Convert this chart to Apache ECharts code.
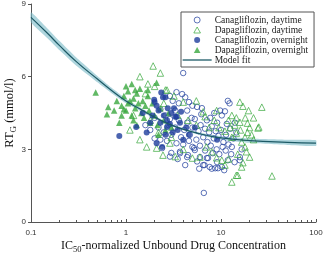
<!DOCTYPE html>
<html>
<head>
<meta charset="utf-8">
<script src="https://cdn.jsdelivr.net/npm/echarts@6/dist/echarts.min.js"></script>
<style>
  html, body { margin: 0; padding: 0; background: #fff; }
  #chart { width: 324px; height: 258px; }
</style>
</head>
<body>
<div id="chart"></div>
<script>
  // model fit (x, y) with confidence band
  var fitX = [0.1, 0.15, 0.2, 0.3, 0.5, 0.7, 1, 1.5, 2, 3, 5, 7, 10, 20, 50, 100]
  var fitY = [8.45, 7.78, 7.28, 6.62, 5.9, 5.44, 5.0, 4.6, 4.33, 4.0, 3.72, 3.58, 3.47, 3.36, 3.29, 3.26]
  var fitLow = [8.24, 7.58, 7.09, 6.45, 5.77, 5.33, 4.91, 4.53, 4.27, 3.95, 3.67, 3.52, 3.40, 3.27, 3.18, 3.14]
  var fitHigh = [8.66, 7.98, 7.47, 6.79, 6.03, 5.55, 5.09, 4.67, 4.39, 4.05, 3.77, 3.64, 3.54, 3.45, 3.40, 3.38]

  var xTicks = ['0.1', '1', '10', '100']
  var yTicks = ['0', '3', '6', '9']

  // Canagliflozin, daytime
  var canaDay = [
    [4.0, 6.15], [3.4, 5.36], [3.9, 5.28], [4.2, 5.15], [3.1, 5.0], [2.9, 5.2], [3.6, 4.9], [4.6, 4.95], [5.0, 4.8], [5.6, 4.75],
    [11.8, 5.0], [12.3, 4.9], [9.8, 4.6], [11.0, 4.57], [10.2, 4.4], [7.1, 4.2], [7.7, 4.3], [9.1, 4.1], [11.5, 4.05], [6.2, 4.45],
    [4.4, 4.6], [3.3, 4.6], [2.6, 4.4], [2.3, 4.65], [2.0, 4.3], [2.2, 3.9], [2.5, 3.7], [2.8, 4.0], [3.0, 3.6], [3.3, 3.9],
    [3.6, 4.2], [3.8, 3.5], [4.1, 3.8], [4.4, 4.1], [4.7, 3.6], [5.0, 3.9], [5.3, 4.25], [5.5, 3.4], [5.8, 3.75], [6.1, 4.0],
    [6.5, 3.5], [6.8, 3.85], [7.2, 3.3], [7.5, 3.7], [8.0, 3.95], [8.4, 3.45], [8.8, 3.75], [9.4, 3.55], [10.0, 3.8], [10.6, 3.3],
    [11.3, 3.6], [12.5, 3.85], [13.5, 3.45], [14.5, 3.7], [4.0, 3.2], [4.6, 3.35], [5.2, 3.05], [3.4, 3.25], [2.7, 3.35], [2.4, 3.05],
    [6.0, 3.15], [6.8, 2.95], [7.8, 3.15], [9.0, 3.0], [10.4, 3.1], [12.0, 3.2], [4.2, 2.35], [4.4, 2.68], [4.5, 2.76], [5.0, 3.1],
    [5.3, 2.97], [6.0, 2.68], [6.5, 2.35], [6.7, 2.35], [7.1, 2.64], [7.3, 2.64], [7.6, 2.27], [8.0, 2.2], [8.2, 2.84], [8.7, 2.22],
    [9.1, 2.47], [9.3, 2.22], [10.2, 2.27], [10.8, 2.14], [11.8, 2.55], [13.9, 2.47], [15.8, 2.55], [15.8, 2.68], [3.5, 2.6], [3.0, 2.85],
    [5.6, 2.5], [12.8, 2.8], [6.6, 1.2], [2.0, 3.45], [1.8, 3.8], [1.6, 4.0], [2.9, 4.25], [13.0, 3.1], [16.5, 3.0], [3.7, 2.9],
    [2.3, 3.4], [2.9, 2.7], [3.7, 2.84], [4.9, 4.3], [8.5, 4.5], [6.3, 4.7], [9.6, 2.8], [11.2, 2.95], [14.0, 4.1], [5.9, 2.2]
  ]

  // Dapagliflozin, daytime
  var dapaDay = [
    [1.93, 6.44], [2.3, 6.15], [1.4, 6.0], [2.7, 5.45], [2.6, 5.45], [1.7, 5.7], [4.0, 4.95], [15.8, 4.95], [17.0, 4.78], [26.9, 4.74],
    [13.0, 4.4], [14.5, 4.3], [15.8, 4.12], [19.0, 4.08], [24.5, 3.88], [25.0, 3.92], [6.5, 4.55], [6.8, 4.35], [16.5, 3.3], [17.9, 3.1],
    [20.0, 2.68], [16.5, 2.27], [14.5, 1.93], [13.0, 1.65], [15.0, 1.93], [34.4, 1.9], [10.2, 2.55], [5.0, 2.64], [6.0, 2.68], [2.9, 3.26],
    [3.0, 3.5], [13.0, 3.5], [14.5, 3.67], [17.9, 3.5], [19.0, 3.7], [1.4, 3.4], [1.65, 3.1], [2.1, 3.05], [2.45, 2.76], [3.5, 4.4],
    [4.5, 4.2], [5.5, 4.0], [7.5, 3.9], [8.5, 4.2], [9.5, 3.9], [11.0, 3.75], [12.0, 4.2], [12.5, 3.9], [14.0, 4.0], [16.0, 3.8],
    [18.0, 4.3], [20.0, 3.9], [21.0, 3.6], [22.0, 3.4], [18.5, 2.9], [15.0, 2.8], [12.0, 2.6], [11.0, 2.35], [9.0, 2.65], [8.0, 2.9],
    [7.0, 3.1], [4.0, 3.0], [3.3, 2.7], [2.2, 3.7], [1.8, 4.2], [1.2, 4.4], [1.1, 3.8], [2.5, 4.9], [3.2, 5.2], [5.5, 5.0],
    [9.0, 4.6], [17.0, 2.45], [22.0, 4.3], [19.5, 4.6], [1.6, 5.3], [2.0, 5.6]
  ]

  // Canagliflozin, overnight
  var canaNight = [
    [0.85, 3.55], [1.28, 3.92], [1.65, 3.7], [1.98, 5.05], [2.6, 5.15], [2.1, 4.8], [2.4, 3.1], [2.7, 4.2], [3.4, 4.35], [4.0, 3.4],
    [2.45, 5.15], [2.75, 4.7], [2.0, 4.95], [3.3, 4.35], [2.3, 4.1], [3.5, 3.8], [2.7, 3.92], [3.0, 4.5], [5.3, 3.9], [9.1, 3.4],
    [2.1, 3.25], [1.9, 4.4], [2.2, 4.6], [2.5, 4.4], [2.9, 4.05], [3.2, 4.7], [3.7, 4.1], [4.3, 3.9], [1.8, 4.1], [2.6, 3.6],
    [3.1, 3.7], [4.6, 3.6], [1.5, 4.5], [2.35, 5.35], [3.8, 4.55]
  ]

  // Dapagliflozin, overnight
  var dapaNight = [
    [0.48, 5.35], [0.63, 4.45], [0.65, 4.75], [0.85, 4.1], [0.8, 5.0], [0.9, 4.8], [0.95, 5.2], [1.0, 4.6], [1.05, 5.4], [1.1, 5.0],
    [1.15, 4.4], [1.2, 5.1], [1.25, 4.7], [1.3, 5.3], [1.35, 4.9], [1.4, 5.5], [1.45, 4.5], [1.5, 5.0], [1.55, 4.3], [1.6, 4.8],
    [1.7, 5.2], [1.75, 4.6], [1.8, 4.1], [1.9, 4.9], [2.0, 4.4], [2.1, 5.75], [2.15, 4.0], [2.3, 4.7], [2.5, 4.2], [2.6, 3.8],
    [1.2, 4.2], [0.9, 4.4], [1.0, 5.6], [1.15, 5.7], [0.75, 4.6], [1.3, 4.0], [1.7, 5.45], [2.8, 4.5], [3.0, 3.9], [2.2, 3.6],
    [1.05, 4.9], [1.25, 5.45], [0.95, 4.65]
  ]

  var blue = '#1e3d9c'
  var green = '#3aa83f'
  var teal = '#1d5a66'
  var serif = 'Liberation Serif'
  var triPath = 'path://M5,0 L10,9 L0,9 Z'

  var chart = echarts.init(document.getElementById('chart'))
  chart.setOption({
    animation: false,
    grid: { left: 31, right: 8, top: 4, bottom: 36, outerBoundsMode: 'none' },
    legend: {
      data: [
        { name: 'Canagliflozin, daytime', icon: 'circle', itemStyle: { color: '#fff', borderColor: blue, borderWidth: 0.9 } },
        { name: 'Dapagliflozin, daytime', icon: triPath, itemStyle: { color: '#fff', borderColor: green, borderWidth: 0.9 } },
        { name: 'Canagliflozin, overnight', icon: 'circle', itemStyle: { color: blue, borderWidth: 0 } },
        { name: 'Dapagliflozin, overnight', icon: triPath, itemStyle: { color: green, borderWidth: 0 } },
        { name: 'Model fit', itemStyle: { color: 'rgba(0,0,0,0)', borderWidth: 0 }, lineStyle: { color: teal, width: 1.3 } }
      ],
      orient: 'vertical',
      left: 181,
      top: 12,
      itemWidth: 29,
      itemHeight: 6,
      itemGap: 0,
      symbolKeepAspect: true,
      padding: [3, 6, 2, 1],
      borderColor: '#555',
      borderWidth: 1,
      textStyle: { fontFamily: serif, fontSize: 9.5, lineHeight: 10, color: '#222', padding: [0, 0, 0, -2] }
    },
    xAxis: {
      type: 'log',
      logBase: 10,
      min: 0.1,
      max: 100,
      name: '{n|IC}{s|50}{n|-normalized Unbound Drug Concentration}',
      nameLocation: 'middle',
      nameGap: 15,
      nameMoveOverlap: false,
      nameTextStyle: {
        rich: {
          n: { fontFamily: serif, fontSize: 12, color: '#111' },
          s: { fontFamily: serif, fontSize: 8.5, color: '#111', padding: [8, 0, 0, 0] }
        }
      },
      axisLine: { lineStyle: { color: '#555', width: 1 } },
      axisTick: { inside: true, length: 3, lineStyle: { color: '#555' } },
      minorTick: { show: true, splitNumber: 9, length: 2, lineStyle: { color: '#555' } },
      axisLabel: {
        fontFamily: 'Liberation Sans', fontSize: 8, color: '#333', margin: 7,
        formatter: function (v) { return xTicks.indexOf(String(v)) >= 0 ? String(v) : '' }
      },
      splitLine: { show: false }
    },
    yAxis: {
      type: 'value',
      min: 0,
      max: 9,
      interval: 3,
      name: '{n|RT}{s|G}{n| (mmol/l)}',
      nameLocation: 'middle',
      nameGap: 13,
      nameRotate: 90,
      nameMoveOverlap: false,
      nameTextStyle: {
        rich: {
          n: { fontFamily: serif, fontSize: 12.5, color: '#111' },
          s: { fontFamily: serif, fontSize: 9, color: '#111', padding: [8, 0, 0, 0] }
        }
      },
      axisLine: { show: true, lineStyle: { color: '#555', width: 1 } },
      axisTick: { show: true, length: 3, lineStyle: { color: '#555' } },
      axisLabel: {
        fontFamily: 'Liberation Sans', fontSize: 8, color: '#333', margin: 5,
        formatter: function (v) { return yTicks.indexOf(String(v)) >= 0 ? String(v) : '' }
      },
      splitLine: { show: false }
    },
    series: [
      {
        name: 'Canagliflozin, daytime', type: 'scatter', symbol: 'circle', symbolSize: 5.5,
        itemStyle: { color: 'rgba(0,0,0,0)', borderColor: blue, borderWidth: 0.9 },
        data: canaDay
      },
      {
        name: 'Dapagliflozin, daytime', type: 'scatter', symbol: 'triangle', symbolSize: 6.5,
        itemStyle: { color: 'rgba(0,0,0,0)', borderColor: green, borderWidth: 0.9 },
        data: dapaDay
      },
      {
        name: 'Dapagliflozin, overnight', type: 'scatter', symbol: 'triangle', symbolSize: 6.5,
        itemStyle: { color: green },
        data: dapaNight
      },
      {
        name: 'Canagliflozin, overnight', type: 'scatter', symbol: 'circle', symbolSize: 6,
        itemStyle: { color: blue },
        data: canaNight
      },
      {
        name: 'band', type: 'custom', silent: true,
        data: [[fitX[0], fitY[0]]],
        renderItem: function (params, api) {
          var pts = []
          for (var i = 0; i < fitX.length; i++) pts.push(api.coord([fitX[i], fitHigh[i]]))
          for (var j = fitX.length - 1; j >= 0; j--) pts.push(api.coord([fitX[j], fitLow[j]]))
          return {
            type: 'polygon',
            shape: { points: pts, smooth: 0.15 },
            style: { fill: 'rgba(120,185,198,0.6)' }
          }
        }
      },
      {
        name: 'Model fit', type: 'line', smooth: true, symbol: 'none',
        color: teal,
        lineStyle: { color: teal, width: 1.2 },
        data: fitX.map(function (x, i) { return [x, fitY[i]] })
      }
    ]
  })
</script>
</body>
</html>
